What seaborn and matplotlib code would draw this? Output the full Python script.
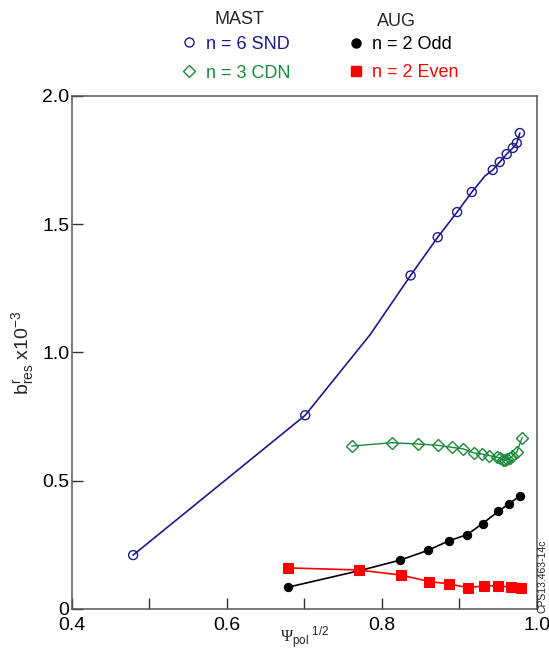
import numpy as np
import pandas as pd
import matplotlib
matplotlib.use("Agg")
import matplotlib.pyplot as plt
import seaborn as sns
from matplotlib.lines import Line2D

sns.set_style("ticks")
plt.rcParams['font.family'] = ['Liberation Sans', 'DejaVu Sans']
plt.rcParams['mathtext.fontset'] = 'custom'
plt.rcParams['mathtext.rm'] = 'Liberation Sans'
plt.rcParams['mathtext.it'] = 'Liberation Sans'
plt.rcParams['mathtext.sf'] = 'Liberation Serif'

# MAST n=6 SND (markers)
snd_x = [0.479, 0.701, 0.837, 0.872, 0.897, 0.916, 0.943, 0.952, 0.961, 0.969, 0.974, 0.978]
snd_y = [0.21, 0.755, 1.30, 1.449, 1.547, 1.625, 1.711, 1.742, 1.773, 1.797, 1.816, 1.855]
# extra line vertices (no marker)
snd_line_x_extra = [0.785, 0.933]
snd_line_y_extra = [1.07, 1.688]

# MAST n=3 CDN
cdn_x = [0.761, 0.813, 0.846, 0.872, 0.890, 0.905, 0.919, 0.929, 0.938, 0.948,
         0.952, 0.956, 0.959, 0.962, 0.965, 0.968, 0.974, 0.981]
cdn_y = [0.635, 0.648, 0.643, 0.638, 0.630, 0.624, 0.608, 0.604, 0.598, 0.592,
         0.588, 0.582, 0.580, 0.583, 0.588, 0.595, 0.612, 0.668]

# AUG n=2 Odd
odd_x = [0.679, 0.772, 0.823, 0.859, 0.886, 0.910, 0.930, 0.950, 0.964, 0.978]
odd_y = [0.085, 0.150, 0.190, 0.228, 0.265, 0.290, 0.333, 0.380, 0.410, 0.440]

# AUG n=2 Even
even_x = [0.679, 0.770, 0.825, 0.861, 0.886, 0.911, 0.932, 0.950, 0.966, 0.979]
even_y = [0.160, 0.152, 0.132, 0.107, 0.098, 0.083, 0.090, 0.090, 0.085, 0.083]

NAVY = '#1a1a8c'
GREEN = '#1a8a3a'
RED = '#ff0000'

fig = plt.figure(figsize=(5.49, 6.52), dpi=100)
ax = fig.add_axes([0.131, 0.066, 0.847, 0.787])

line_df = pd.DataFrame({'x': snd_x + snd_line_x_extra, 'y': snd_y + snd_line_y_extra}).sort_values('x')
sns.lineplot(data=line_df, x='x', y='y', ax=ax, color=NAVY, lw=1.2, sort=False)
sns.scatterplot(x=snd_x, y=snd_y, ax=ax, marker='o', s=42, facecolor='none', edgecolor=NAVY, linewidth=1.0, zorder=3)

sns.lineplot(x=cdn_x, y=cdn_y, ax=ax, color=GREEN, lw=1.0, sort=False,
             marker='D', markersize=6.5, markerfacecolor='none', markeredgecolor=GREEN, markeredgewidth=1.0)
sns.lineplot(x=odd_x, y=odd_y, ax=ax, color='black', lw=1.2, sort=False,
             marker='o', markersize=6, markerfacecolor='black', markeredgecolor='black')
sns.lineplot(x=even_x, y=even_y, ax=ax, color=RED, lw=1.2, sort=False,
             marker='s', markersize=6.5, markerfacecolor=RED, markeredgecolor=RED)

ax.set_xlim(0.4, 1.0)
ax.set_ylim(0, 2.0)
ax.set_xticks([0.4, 0.6, 0.8, 1.0])
ax.set_xticklabels(['0.4', '0.6', '0.8', '1.0'])
ax.set_xticks([0.5, 0.7, 0.9], minor=True)
ax.set_yticks([0, 0.5, 1.0, 1.5, 2.0])
ax.set_yticklabels(['0', '0.5', '1.0', '1.5', '2.0'])
ax.tick_params(axis='both', which='major', direction='in', length=8, width=1, labelsize=14, pad=2, colors='#333333', labelcolor='black')
ax.tick_params(axis='x', which='major', pad=6)
ax.tick_params(axis='x', which='minor', direction='in', length=8, width=1, colors='#333333')
for sp in ax.spines.values():
    sp.set_visible(True)
    sp.set_color('#555555')
    sp.set_linewidth(1.1)

ax.set_xlabel(r'$\mathsf{\Psi}_{\rm pol}$$^{\ 1/2}$', fontsize=12, labelpad=-7)
ax.set_ylabel(r'b$^{\rm r}_{\rm res}$ x10$^{-3}$', fontsize=14, labelpad=4)

fig.text(0.989, 0.060, 'CPS13.463-14c', rotation=90, fontsize=7.5, ha='center', va='bottom')

# Legends
fig.text(0.437, 0.970, 'MAST', fontsize=13, ha='center', va='center')
fig.text(0.723, 0.967, 'AUG', fontsize=13, ha='center', va='center')
h1 = [Line2D([], [], ls='none', marker='o', ms=6.5, mfc='none', mec=NAVY, mew=1.0),
      Line2D([], [], ls='none', marker='D', ms=6.5, mfc='none', mec=GREEN, mew=1.0)]
leg1 = fig.legend(h1, ['n = 6 SND', 'n = 3 CDN'], loc='center', bbox_to_anchor=(0.43, 0.910),
                  frameon=False, fontsize=13, handlelength=0.8, handletextpad=0.5, labelspacing=0.65,
                  labelcolor=[NAVY, GREEN])
h2 = [Line2D([], [], ls='none', marker='o', ms=6.5, mfc='black', mec='black'),
      Line2D([], [], ls='none', marker='s', ms=7, mfc=RED, mec=RED)]
leg2 = fig.legend(h2, ['n = 2 Odd', 'n = 2 Even'], loc='center', bbox_to_anchor=(0.735, 0.910),
                  frameon=False, fontsize=13, handlelength=0.8, handletextpad=0.5, labelspacing=0.6,
                  labelcolor=['black', RED])

fig.savefig('out.png', dpi=100)
